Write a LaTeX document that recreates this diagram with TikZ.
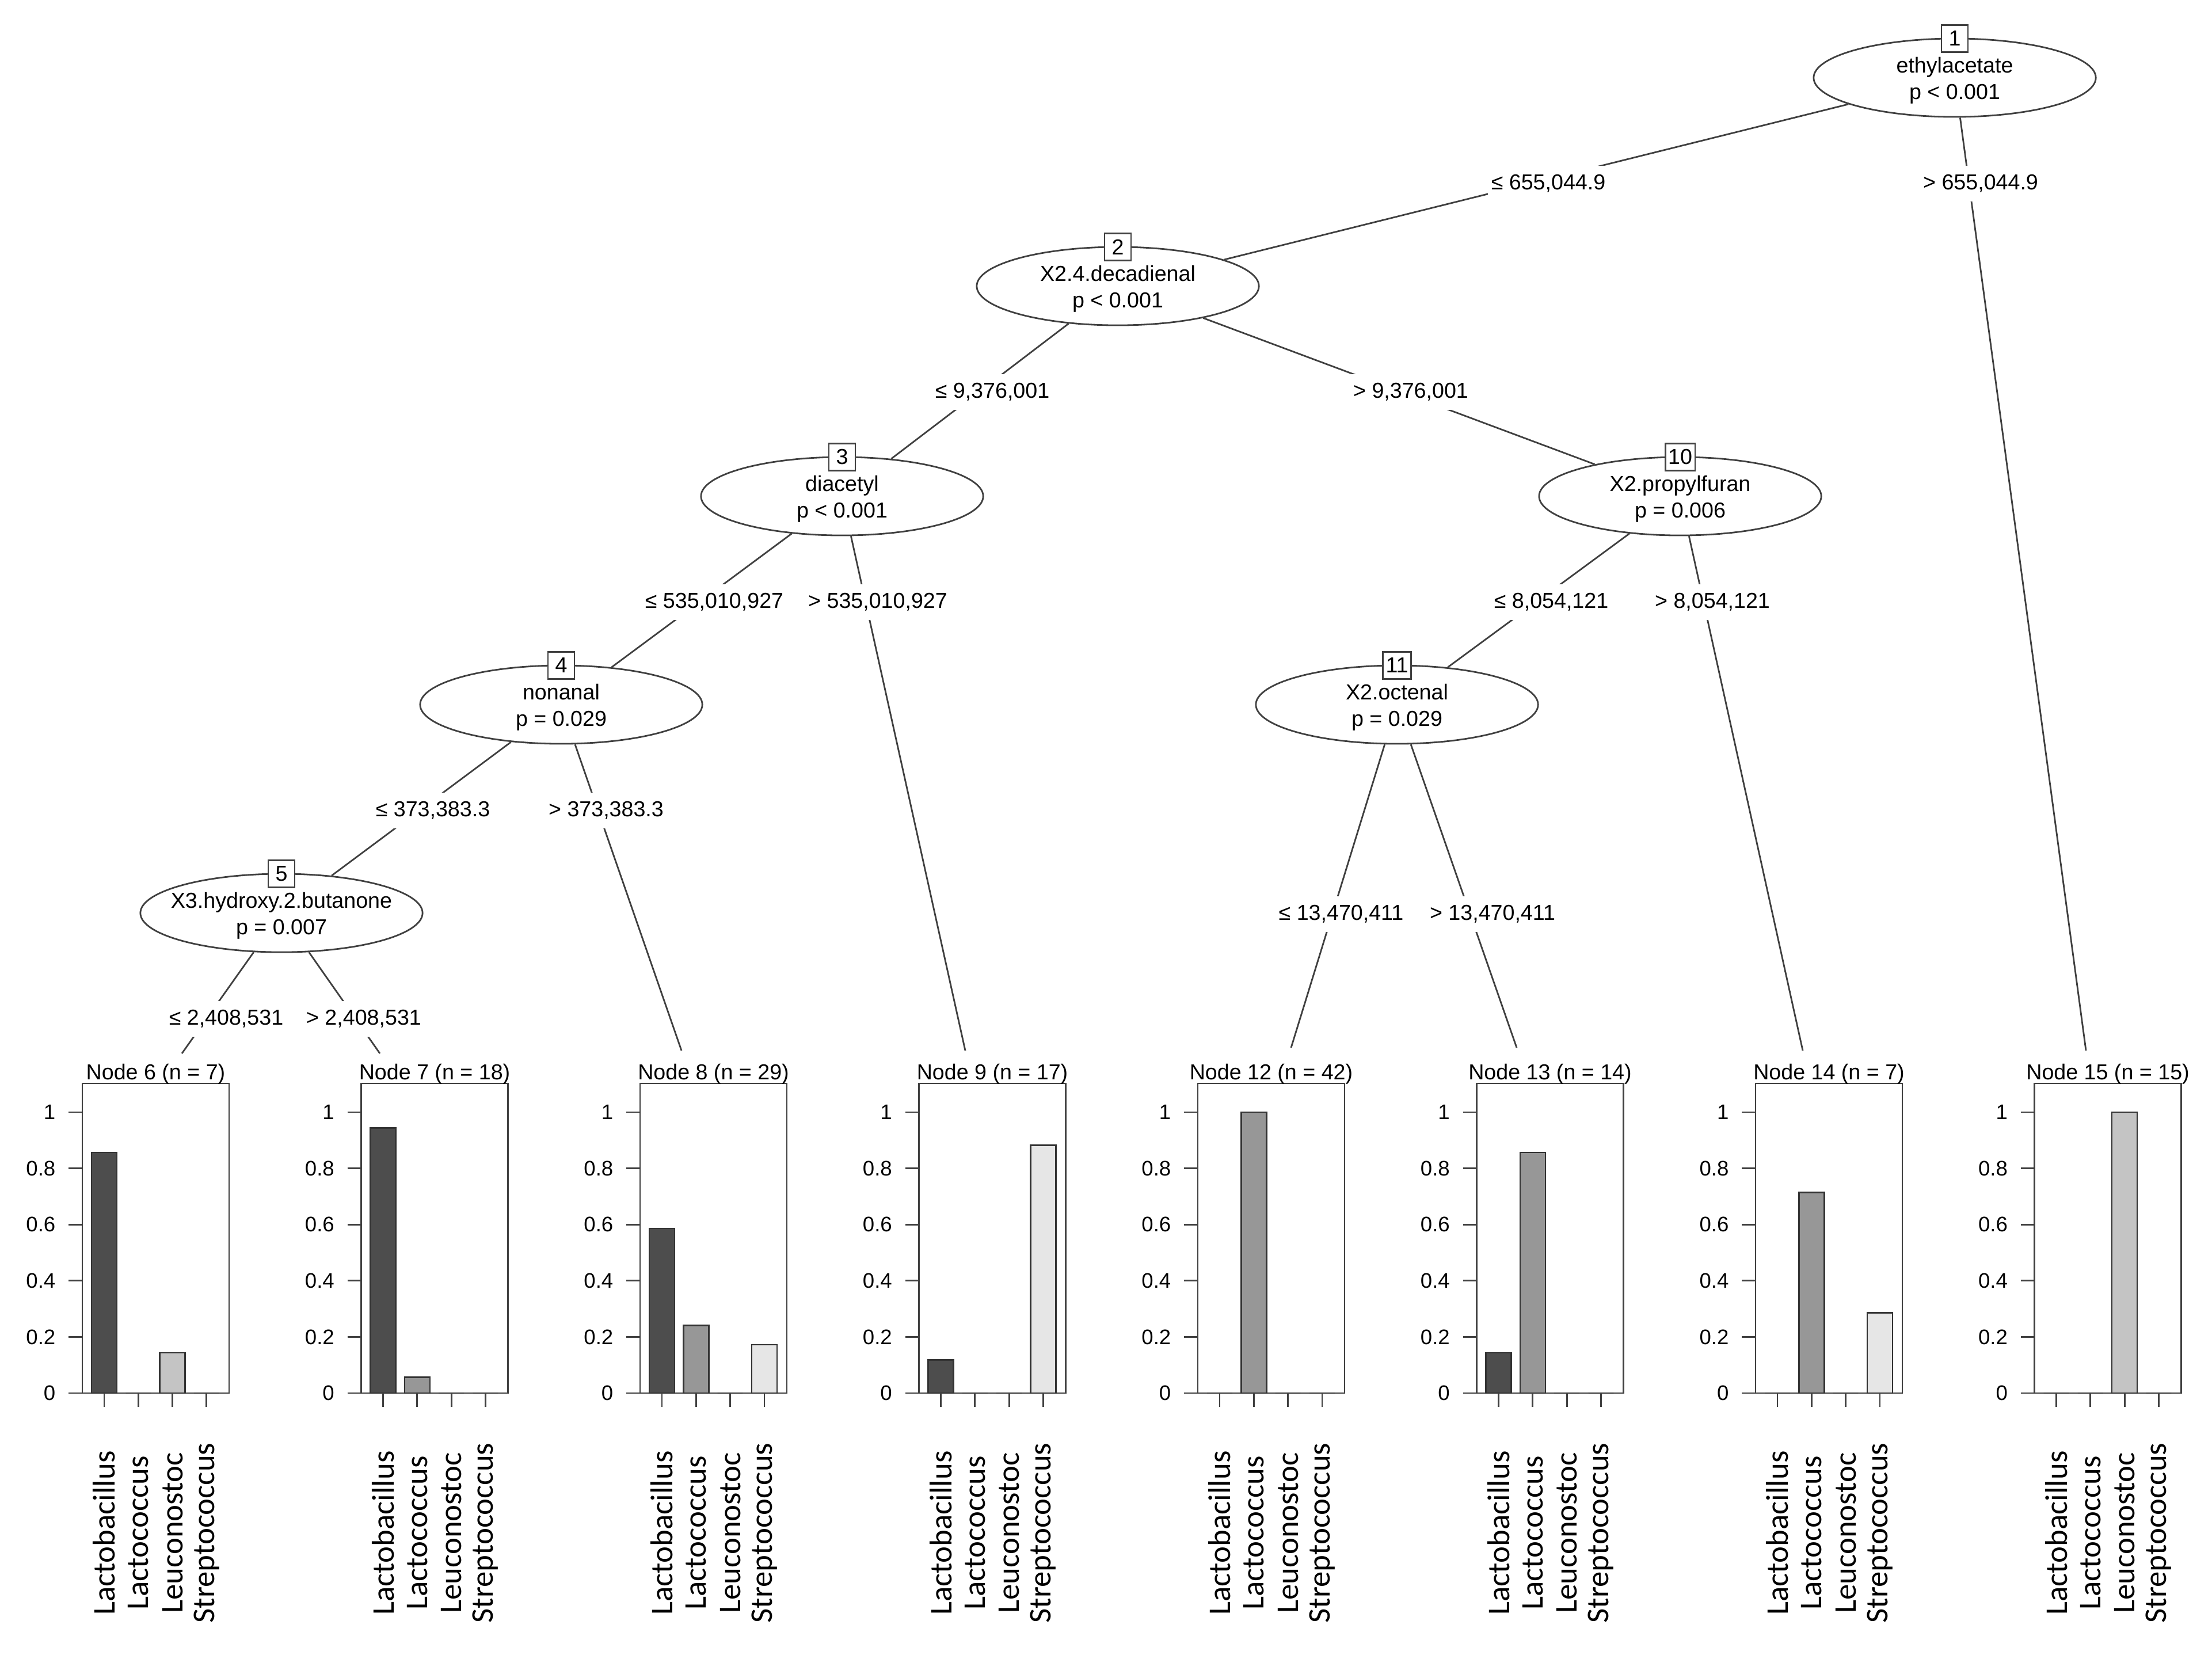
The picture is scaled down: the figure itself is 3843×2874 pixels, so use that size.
\documentclass[tikz,border=0pt]{standalone}
\usepackage{fontspec}
\setmainfont{Liberation Sans}
\newfontfamily\catfont{Carlito}
\usetikzlibrary{shapes.geometric}
\definecolor{lineGray}{gray}{0.25}
\definecolor{barA}{HTML}{4D4D4D}
\definecolor{barB}{HTML}{979797}
\definecolor{barC}{HTML}{C4C4C4}
\definecolor{barD}{HTML}{E6E6E6}

% one terminal node: #1 node, #2 left edge, #3 n, #4-#7 proportions
\newcommand{\leafpanel}[7]{%
  \draw[leafBox] (#2,1882) rectangle (#2+255,2420);
  \node[leafTitle] (leaf#1) at (#2+127.5,1875) {Node #1 (n = #3)};
  \foreach \v [count=\k] in {0,0.2,0.4,0.6,0.8,1} {
    \draw[leafTick] (#2-24,2420-488*\v) -- (#2,2420-488*\v);
    \node[tickLabel] (leaf#1y\k) at (#2-46,2420-488*\v) {\v};
  }
  \foreach \h/\col [count=\j from 0] in {#4/barA,#5/barB,#6/barC,#7/barD} {
    \draw[leafBar, fill=\col] (#2+38+59.3*\j-22,2420) rectangle (#2+38+59.3*\j+22,2420-488*\h);
    \draw[leafTick] (#2+38+59.3*\j,2420) -- (#2+38+59.3*\j,2444);
  }
  \foreach \cat [count=\j from 0] in {Lactobacillus,Lactococcus,Leuconostoc,Streptococcus}
    \node[catLabel] (leaf#1c\j) at (#2+38+59.3*\j,2663) {\cat};
}

\begin{document}
\begin{tikzpicture}[x=0.01cm, y=-0.01cm]

  \tikzstyle{innerNode} = [ellipse, draw=lineGray, line width=0.8pt, fill=white,
                           minimum width=4.9cm, minimum height=1.36cm, inner sep=0pt];
  \tikzstyle{numBox} = [draw=lineGray, line width=0.8pt, fill=white, minimum width=0.46cm,
                        minimum height=0.47cm, inner sep=0.05cm, font=\fontsize{10.7}{13}\selectfont];
  \tikzstyle{splitText} = [align=center, inner sep=0pt, font=\fontsize{10.7}{13}\selectfont];
  \tikzstyle{edge} = [lineGray, line width=0.8pt];
  \tikzstyle{edgeLabel} = [fill=white, inner xsep=0.06cm, inner ysep=0.15cm,
                           font=\fontsize{10.7}{13}\selectfont];
  \tikzstyle{leafTitle} = [anchor=base, inner sep=0pt, font=\fontsize{10.7}{13}\selectfont];
  \tikzstyle{leafBox} = [draw=lineGray, line width=0.8pt, fill=white];
  \tikzstyle{leafTick} = [lineGray, line width=0.8pt];
  \tikzstyle{leafBar} = [draw=black!80, line width=0.7pt];
  \tikzstyle{tickLabel} = [anchor=east, inner sep=0pt, font=\fontsize{10.4}{12}\selectfont];
  \tikzstyle{catLabel} = [rotate=90, inner sep=0pt, font=\catfont\fontsize{15.6}{18}\selectfont];

  \useasboundingbox (0,0) rectangle (3843,2874);

  % inner nodes
  \node[innerNode] (n1)  at (3396,135)  {};
  \node[innerNode] (n2)  at (1942,497)  {};
  \node[innerNode] (n3)  at (1463,862)  {};
  \node[innerNode] (n4)  at (975,1224)  {};
  \node[innerNode] (n5)  at (489,1586)  {};
  \node[innerNode] (n10) at (2919,862)  {};
  \node[innerNode] (n11) at (2427,1224) {};

  \node[splitText] (s1)  at (3396,140)  {ethylacetate\\p < 0.001};
  \node[splitText] (s2)  at (1942,502)  {X2.4.decadienal\\p < 0.001};
  \node[splitText] (s3)  at (1463,867)  {diacetyl\\p < 0.001};
  \node[splitText] (s4)  at (975,1229)  {nonanal\\p = 0.029};
  \node[splitText] (s5)  at (489,1591)  {X3.hydroxy.2.butanone\\p = 0.007};
  \node[splitText] (s10) at (2919,867)  {X2.propylfuran\\p = 0.006};
  \node[splitText] (s11) at (2427,1229) {X2.octenal\\p = 0.029};

  \node[numBox] (b1)  at (3396,67)   {1};
  \node[numBox] (b2)  at (1942,429)  {2};
  \node[numBox] (b3)  at (1463,794)  {3};
  \node[numBox] (b4)  at (975,1156)  {4};
  \node[numBox] (b5)  at (489,1518)  {5};
  \node[numBox] (b10) at (2919,794)  {10};
  \node[numBox] (b11) at (2427,1156) {11};

  % ends of the edges into the terminal nodes
  \coordinate (e6)  at (316,1830);
  \coordinate (e7)  at (660,1830);
  \coordinate (e8)  at (1184,1825);
  \coordinate (e9)  at (1677,1825);
  \coordinate (e12) at (2243,1820);
  \coordinate (e13) at (2635,1820);
  \coordinate (e14) at (3132,1825);
  \coordinate (e15) at (3624,1825);

  \draw[edge] (n1) -- (n2);
  \draw[edge] (n1) -- (e15);
  \draw[edge] (n2) -- (n3);
  \draw[edge] (n2) -- (n10);
  \draw[edge] (n3) -- (n4);
  \draw[edge] (n3) -- (e9);
  \draw[edge] (n4) -- (n5);
  \draw[edge] (n4) -- (e8);
  \draw[edge] (n5) -- (e6);
  \draw[edge] (n5) -- (e7);
  \draw[edge] (n10) -- (n11);
  \draw[edge] (n10) -- (e14);
  \draw[edge] (n11) -- (e12);
  \draw[edge] (n11) -- (e13);

  \node[edgeLabel] (l2)  at (2690,319)  {≤ 655,044.9};
  \node[edgeLabel] (l15) at (3441,319)  {> 655,044.9};
  \node[edgeLabel] (l3)  at (1724,681)  {≤ 9,376,001};
  \node[edgeLabel] (l10) at (2451,681)  {> 9,376,001};
  \node[edgeLabel] (l4)  at (1241,1046) {≤ 535,010,927};
  \node[edgeLabel] (l9)  at (1525,1046) {> 535,010,927};
  \node[edgeLabel] (l11) at (2695,1046) {≤ 8,054,121};
  \node[edgeLabel] (l14) at (2975,1046) {> 8,054,121};
  \node[edgeLabel] (l5)  at (752,1408)  {≤ 373,383.3};
  \node[edgeLabel] (l8)  at (1053,1408) {> 373,383.3};
  \node[edgeLabel] (l12) at (2330,1588) {≤ 13,470,411};
  \node[edgeLabel] (l13) at (2593,1588) {> 13,470,411};
  \node[edgeLabel] (l6)  at (393,1770)  {≤ 2,408,531};
  \node[edgeLabel] (l7)  at (632,1770)  {> 2,408,531};

  % terminal nodes
  \leafpanel{6}{143}{7}{0.857}{0}{0.143}{0}
  \leafpanel{7}{627.5}{18}{0.944}{0.056}{0}{0}
  \leafpanel{8}{1112}{29}{0.586}{0.241}{0}{0.172}
  \leafpanel{9}{1596.5}{17}{0.118}{0}{0}{0.882}
  \leafpanel{12}{2081}{42}{0}{1}{0}{0}
  \leafpanel{13}{2565.5}{14}{0.143}{0.857}{0}{0}
  \leafpanel{14}{3050}{7}{0}{0.714}{0}{0.286}
  \leafpanel{15}{3534.5}{15}{0}{0}{1}{0}

\end{tikzpicture}
\end{document}
